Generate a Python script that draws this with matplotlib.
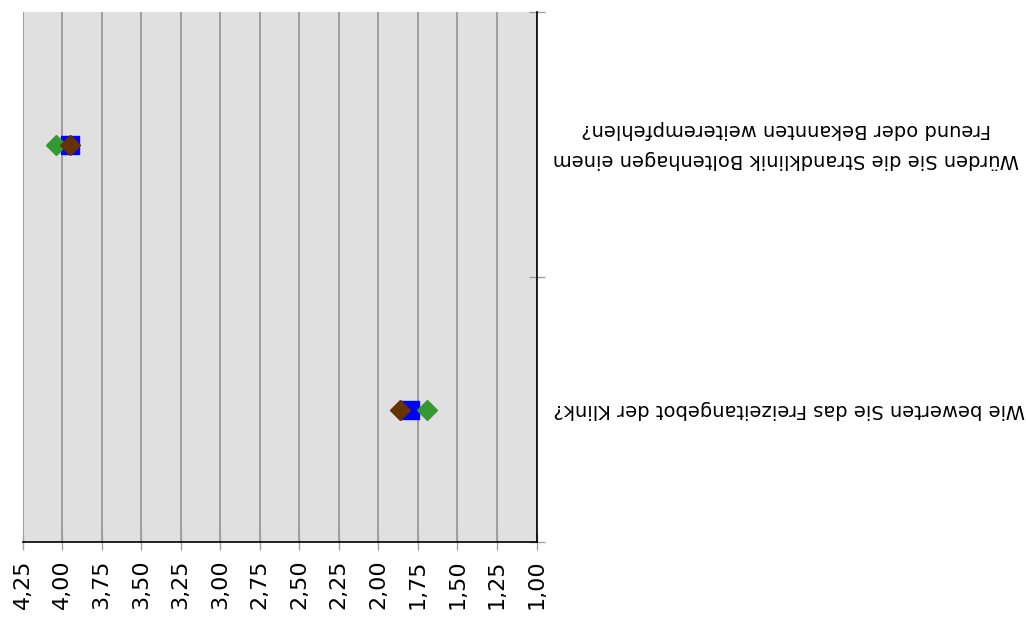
import matplotlib
matplotlib.use("Agg")
import matplotlib.pyplot as plt
import numpy as np

categories = [
    "Wie bewerten Sie das Freizeitangebot der Klink?",
    "Würden Sie die Strandklinik Boltenhagen einem\nFreund oder Bekannten weiterempfehlen?",
]
series_blue = [1.80, 3.95]
series_green = [1.69, 4.04]
series_brown = [1.86, 3.95]
x_ticks = [1.00, 1.25, 1.50, 1.75, 2.00, 2.25, 2.50, 2.75, 3.00, 3.25, 3.50, 3.75, 4.00, 4.25]
x_tick_labels = [f"{v:.2f}".replace(".", ",") for v in x_ticks]

plt.rcParams['font.family'] = ['DejaVu Sans']

fig = plt.figure(figsize=(10.26, 6.23), dpi=100)
ax = fig.add_axes([22.5 / 1026, 1 - 542 / 623, 514 / 1026, 530 / 623])
ax.set_facecolor('#e0e0e0')

ypos = np.arange(len(categories))
ax.plot(series_blue, ypos, linestyle='none', marker='s', markersize=13,
        color='#0000ff', zorder=3)
ax.plot(series_green, ypos, linestyle='none', marker='D', markersize=10.5,
        color='#339933', zorder=4)
ax.plot(series_brown, ypos, linestyle='none', marker='D', markersize=10.5,
        color='#663300', zorder=5)

ax.set_xlim(4.25, 1.00)
ax.set_ylim(-0.5, len(categories) - 0.5)

ax.set_xticks(x_ticks)
ax.set_xticklabels(x_tick_labels, rotation=90, fontsize=16)
ax.xaxis.grid(True, color='#8c8c8c', linewidth=1.1)
ax.set_axisbelow(True)
ax.tick_params(axis='x', direction='inout', length=11, color='#a0a0a0',
               width=1.0, pad=7)

# category boundary ticks on the right
ax.yaxis.tick_right()
ax.set_yticks(np.arange(-0.5, len(categories), 1.0))
ax.set_yticklabels([])
ax.tick_params(axis='y', which='major', direction='inout', length=11,
               color='#a0a0a0', width=1.0)
ax.set_yticks(ypos, minor=True)
ax.set_yticklabels(categories, minor=True, rotation=180, fontsize=14,
                   multialignment='center', linespacing=1.75, va='center')
ax.tick_params(axis='y', which='minor', length=0, pad=12)

for s in ['top', 'left']:
    ax.spines[s].set_visible(False)
for s in ['bottom', 'right']:
    ax.spines[s].set_color('black')
    ax.spines[s].set_linewidth(1.2)

fig.savefig("out.png", dpi=100)
